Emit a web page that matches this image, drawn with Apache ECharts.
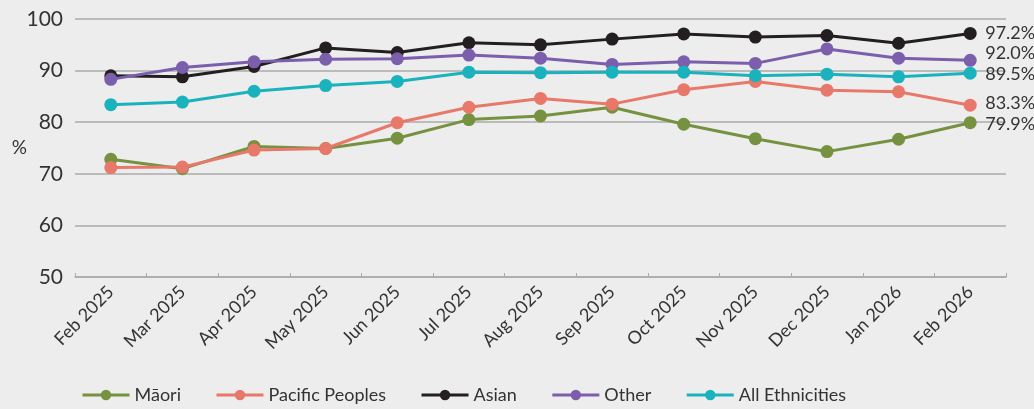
<!DOCTYPE html>
<html>
<head>
<meta charset="utf-8">
<script src="https://cdn.jsdelivr.net/npm/echarts@6/dist/echarts.min.js"></script>
<style>
  html, body { margin: 0; padding: 0; background: #ededed; }
  #chart { width: 1034px; height: 409px; }
</style>
</head>
<body>
<div id="chart"></div>
<script>
// months on the x axis
const months = ['Feb 2025', 'Mar 2025', 'Apr 2025', 'May 2025', 'Jun 2025', 'Jul 2025', 'Aug 2025',
    'Sep 2025', 'Oct 2025', 'Nov 2025', 'Dec 2025', 'Jan 2026', 'Feb 2026'];

// values per ethnicity (%)
const maori = [72.8, 71.0, 75.3, 74.9, 76.9, 80.5, 81.2, 82.9, 79.6, 76.8, 74.3, 76.7, 79.9];
const pacific = [71.2, 71.3, 74.6, 74.9, 79.9, 82.9, 84.6, 83.5, 86.3, 87.9, 86.2, 85.9, 83.3];
const asian = [89.0, 88.8, 90.8, 94.4, 93.5, 95.4, 95.0, 96.1, 97.1, 96.5, 96.8, 95.3, 97.2];
const other = [88.3, 90.6, 91.7, 92.2, 92.3, 93.0, 92.4, 91.2, 91.7, 91.4, 94.2, 92.4, 92.0];
const allEth = [83.4, 83.9, 86.0, 87.1, 87.9, 89.7, 89.6, 89.7, 89.7, 89.0, 89.3, 88.8, 89.5];

const yTicks = [50, 60, 70, 80, 90, 100];

const font = 'Lato, "Open Sans", sans-serif';
const textColor = '#333';

function makeSeries(name, data, color, labelOffsetY) {
    return {
        name: name,
        type: 'line',
        data: data,
        symbol: 'circle',
        symbolSize: 13,
        lineStyle: { color: color, width: 3 },
        itemStyle: { color: color },
        z: 3,
        endLabel: {
            show: true,
            formatter: p => p.value.toFixed(1) + '%',
            color: textColor,
            fontFamily: font,
            fontSize: 18,
            distance: 15,
            offset: [0, labelOffsetY]
        }
    };
}

const chart = echarts.init(document.getElementById('chart'));
chart.setOption({
    backgroundColor: '#ededed',
    animation: false,
    grid: { left: 75, right: 28, top: 19, bottom: 132 },
    legend: {
        bottom: 0,
        left: 76,
        itemWidth: 47,
        itemHeight: 13,
        itemGap: 34,
        lineStyle: { width: 3 },
        textStyle: { color: textColor, fontFamily: font, fontSize: 18 },
        data: ['Māori', 'Pacific Peoples', 'Asian', 'Other', 'All Ethnicities']
    },
    xAxis: {
        type: 'category',
        data: months,
        boundaryGap: true,
        axisLine: { lineStyle: { color: '#aaa', width: 1.5 } },
        axisTick: { show: true, inside: true, length: 4, lineStyle: { color: '#aaa' } },
        axisLabel: {
            rotate: 45,
            interval: 0,
            margin: 12,
            color: textColor,
            fontFamily: font,
            fontSize: 18
        }
    },
    yAxis: {
        type: 'value',
        min: yTicks[0],
        max: yTicks[yTicks.length - 1],
        interval: 10,
        name: '%',
        nameLocation: 'middle',
        nameRotate: 0,
        nameGap: 48,
        nameMoveOverlap: false,
        nameTextStyle: { color: textColor, fontFamily: font, fontSize: 19 },
        axisLine: { show: false },
        axisTick: { show: false },
        axisLabel: { color: textColor, fontFamily: font, fontSize: 21, margin: 12 },
        splitLine: { lineStyle: { color: '#aaa', width: 1.5 } }
    },
    series: [
        makeSeries('Māori', maori, '#76913f', 1),
        makeSeries('Pacific Peoples', pacific, '#e8786a', -2),
        makeSeries('Asian', asian, '#231f20', 0),
        makeSeries('Other', other, '#7b5fac', -7),
        makeSeries('All Ethnicities', allEth, '#1ab3bd', 1)
    ]
});
</script>
</body>
</html>
